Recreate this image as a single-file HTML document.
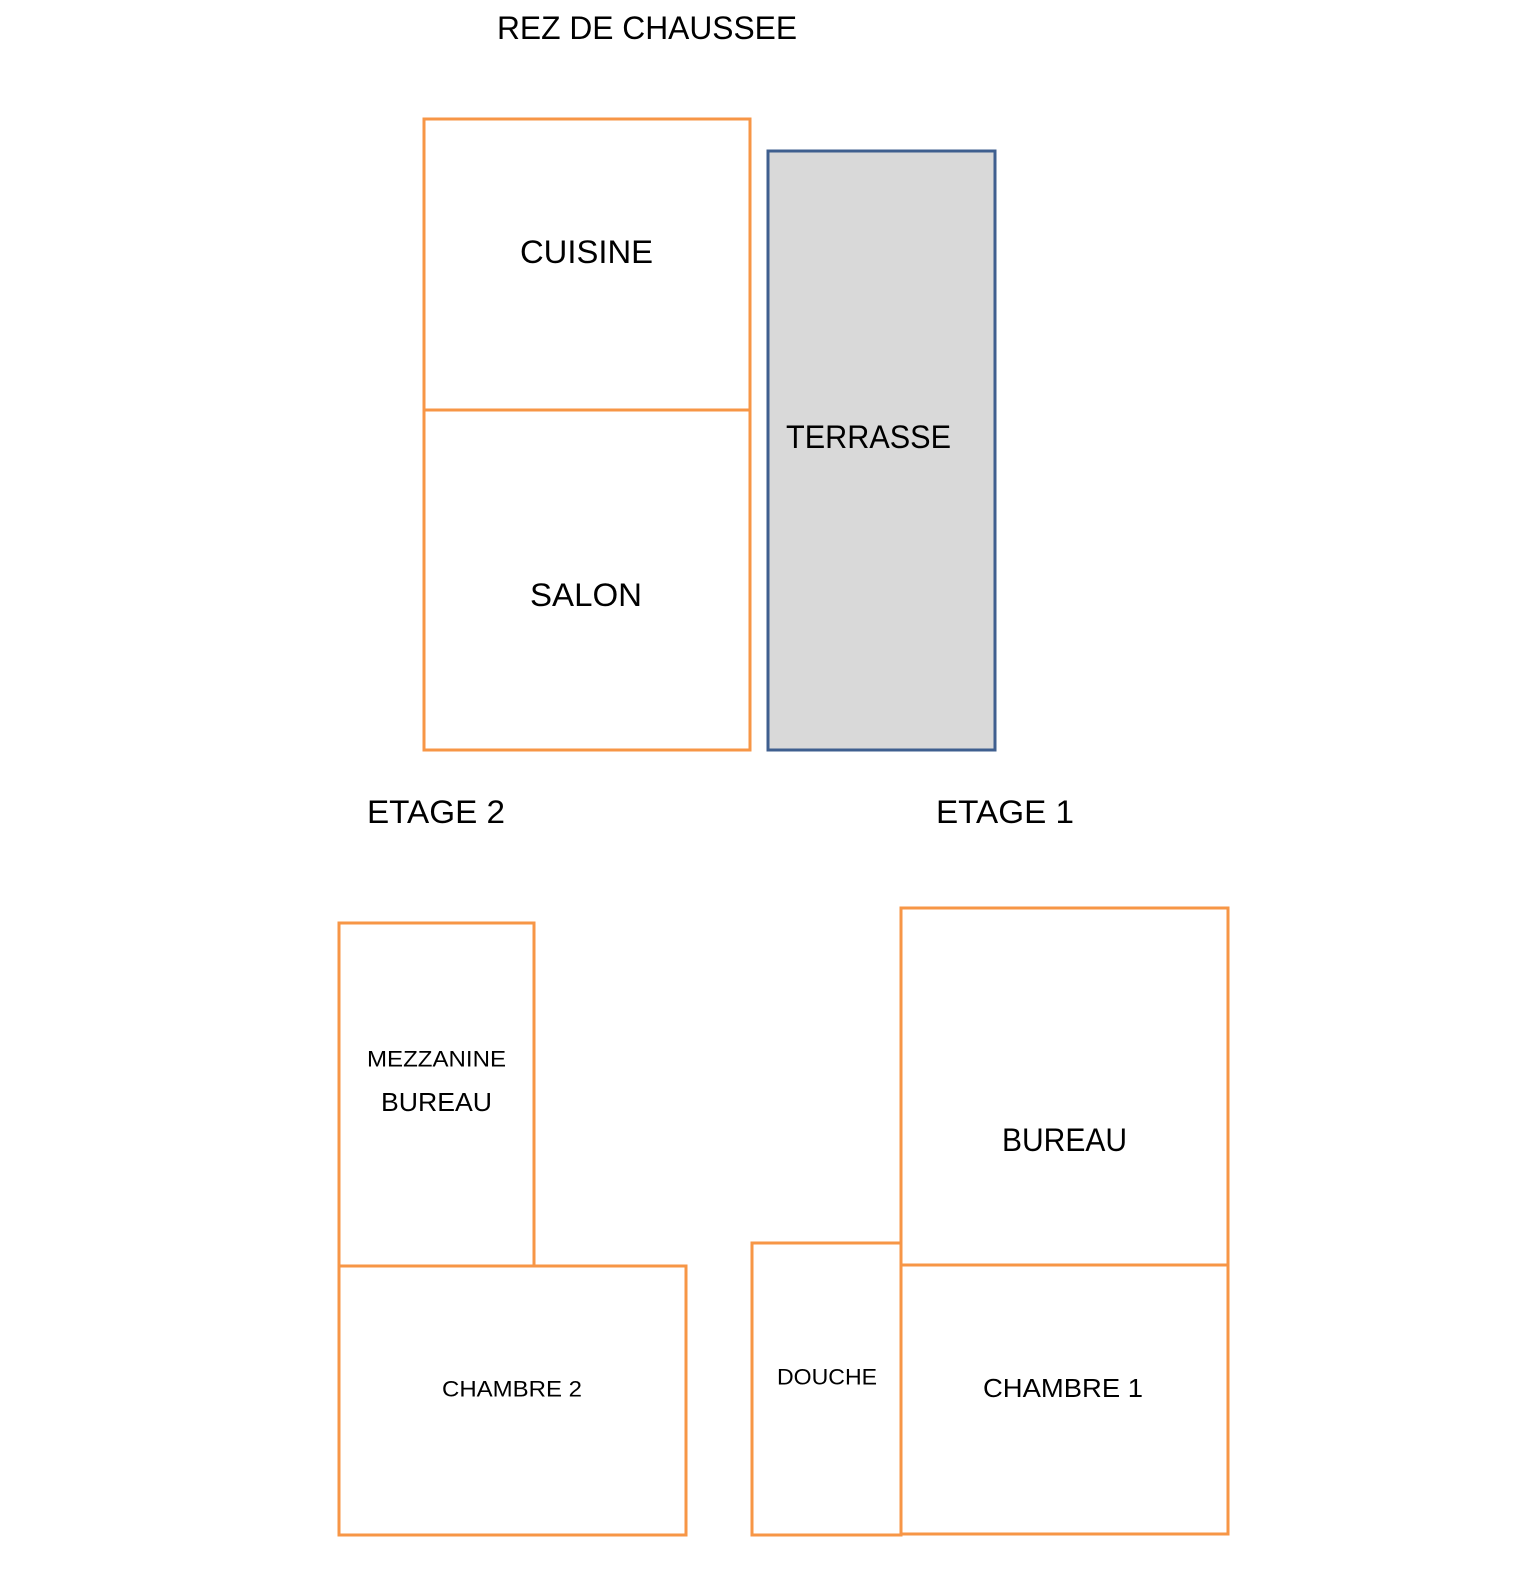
<!DOCTYPE html>
<html><head><meta charset="utf-8"><style>html,body{margin:0;padding:0;background:#fff;overflow:hidden;width:1520px;height:1574px}svg{display:block}</style></head>
<body>
<svg width="1520" height="1574" viewBox="0 0 1520 1574" xmlns="http://www.w3.org/2000/svg" font-family="'Liberation Sans', sans-serif" fill="#000">
<g fill="none" stroke="#F79646" stroke-width="3">
<rect x="424" y="119" width="326" height="631"/>
<line x1="424" y1="410" x2="750" y2="410"/>
<rect x="339" y="923" width="195" height="343"/>
<rect x="339" y="1266" width="347" height="269"/>
<rect x="752" y="1243" width="149" height="292"/>
<rect x="901" y="908" width="327" height="357"/>
<rect x="901" y="1265" width="327" height="269"/>
</g>
<rect x="768" y="151" width="227" height="599" fill="#D9D9D9" stroke="#3F5F8F" stroke-width="3"/>
<g dominant-baseline="central" font-size="32">
<text x="497" y="28" textLength="300" lengthAdjust="spacingAndGlyphs">REZ DE CHAUSSEE</text>
<text x="520" y="252" textLength="133" lengthAdjust="spacingAndGlyphs">CUISINE</text>
<text x="530" y="595" textLength="112" lengthAdjust="spacingAndGlyphs">SALON</text>
<text x="786" y="437" textLength="165" lengthAdjust="spacingAndGlyphs">TERRASSE</text>
<text x="367" y="812" textLength="138" lengthAdjust="spacingAndGlyphs">ETAGE 2</text>
<text x="936" y="812" textLength="138" lengthAdjust="spacingAndGlyphs">ETAGE 1</text>
<text x="1002" y="1140" textLength="125" lengthAdjust="spacingAndGlyphs">BUREAU</text>
</g>
<g dominant-baseline="central" font-size="26">
<text x="381" y="1102" textLength="111" lengthAdjust="spacingAndGlyphs">BUREAU</text>
<text x="983" y="1388" textLength="160" lengthAdjust="spacingAndGlyphs">CHAMBRE 1</text>
</g>
<g dominant-baseline="central" font-size="22">
<text x="367" y="1059" textLength="139" lengthAdjust="spacingAndGlyphs">MEZZANINE</text>
<text x="442" y="1389" textLength="140" lengthAdjust="spacingAndGlyphs">CHAMBRE 2</text>
<text x="777" y="1377" textLength="100" lengthAdjust="spacingAndGlyphs">DOUCHE</text>
</g>
</svg>
</body></html>
